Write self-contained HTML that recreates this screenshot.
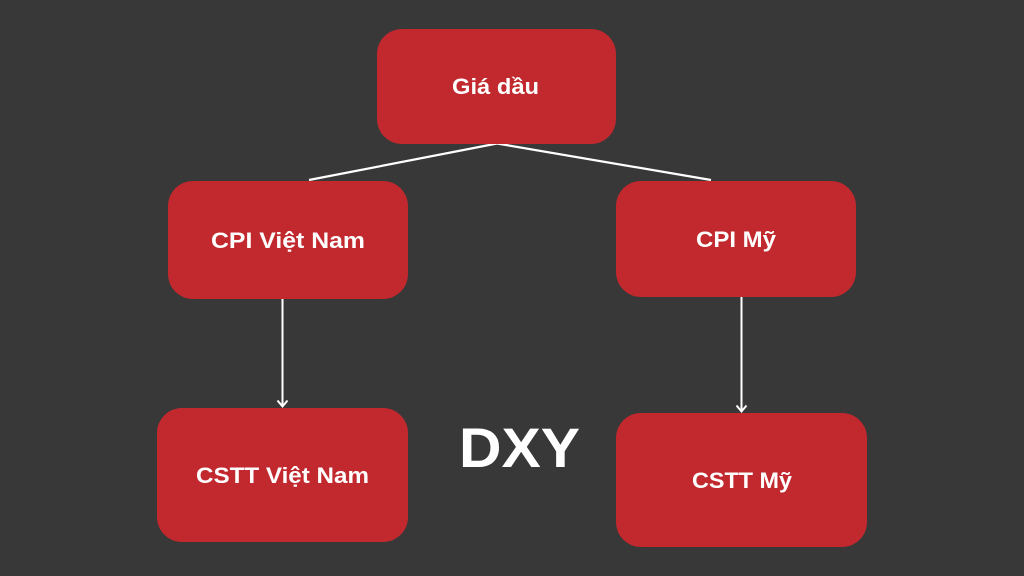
<!DOCTYPE html>
<html>
<head>
<meta charset="utf-8">
<style>
  html,body{margin:0;padding:0;background:#383838;}
  svg{display:block;}
  text{font-family:"Liberation Sans",sans-serif;font-weight:bold;fill:#ffffff;}
</style>
</head>
<body>
<svg width="1024" height="576" viewBox="0 0 1024 576" xmlns="http://www.w3.org/2000/svg">
  <rect x="0" y="0" width="1024" height="576" fill="#383838"/>

  <!-- connectors -->
  <line x1="497" y1="143.5" x2="309" y2="180" stroke="#ffffff" stroke-width="2.2"/>
  <line x1="497" y1="143.5" x2="711" y2="180" stroke="#ffffff" stroke-width="2.2"/>
  <line x1="282.5" y1="299" x2="282.5" y2="406" stroke="#ffffff" stroke-width="2"/>
  <polyline points="277.5,400.5 282.5,406.5 287.5,400.5" fill="none" stroke="#ffffff" stroke-width="2"/>
  <line x1="741.5" y1="297" x2="741.5" y2="411" stroke="#ffffff" stroke-width="2"/>
  <polyline points="736.5,405.5 741.5,411.5 746.5,405.5" fill="none" stroke="#ffffff" stroke-width="2"/>

  <!-- boxes -->
  <rect x="377" y="29" width="239" height="115" rx="25" ry="25" fill="#c2292e"/>
  <rect x="168" y="181" width="240" height="118" rx="25" ry="25" fill="#c2292e"/>
  <rect x="616" y="181" width="240" height="116" rx="25" ry="25" fill="#c2292e"/>
  <rect x="157" y="408" width="251" height="134" rx="25" ry="25" fill="#c2292e"/>
  <rect x="616" y="413" width="251" height="134" rx="25" ry="25" fill="#c2292e"/>

  <!-- labels -->
  <text x="452" y="94" font-size="22" textLength="87" lengthAdjust="spacingAndGlyphs">Giá dầu</text>
  <text x="211" y="248" font-size="22" textLength="154" lengthAdjust="spacingAndGlyphs">CPI Việt Nam</text>
  <text x="696" y="247" font-size="22" textLength="80" lengthAdjust="spacingAndGlyphs">CPI Mỹ</text>
  <text x="196" y="483" font-size="22" textLength="173" lengthAdjust="spacingAndGlyphs">CSTT Việt Nam</text>
  <text x="692" y="488" font-size="22" textLength="100" lengthAdjust="spacingAndGlyphs">CSTT Mỹ</text>
  <text x="459" y="467" font-size="56" textLength="121" lengthAdjust="spacingAndGlyphs">DXY</text>
</svg>
</body>
</html>
